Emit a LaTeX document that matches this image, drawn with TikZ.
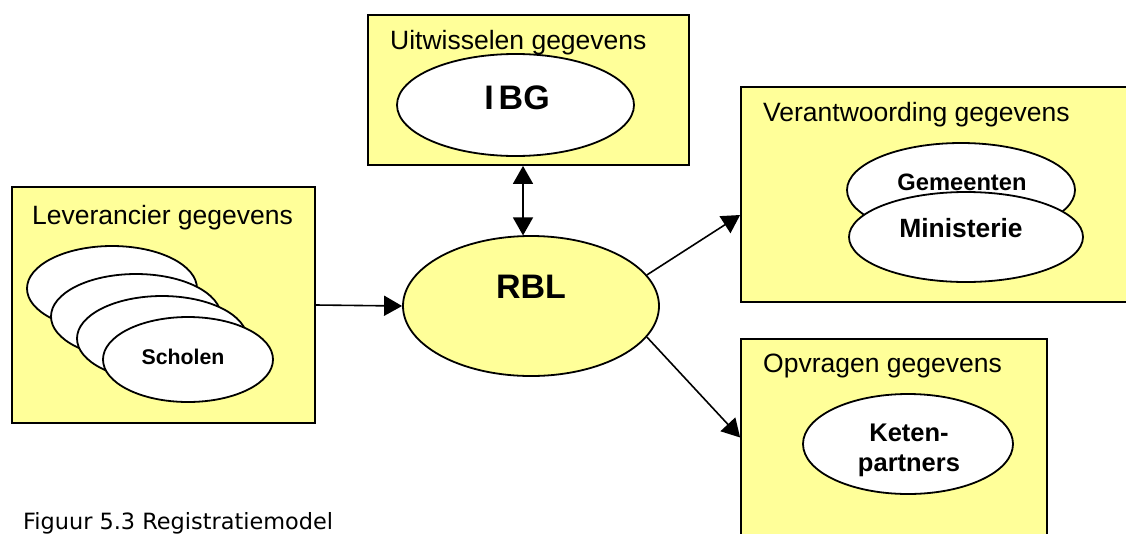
\documentclass[tikz,border=0pt]{standalone}
\usepackage{fontspec}
\setmainfont{Liberation Sans}
\newfontfamily\capfont{DejaVu Sans}
\usetikzlibrary{shapes.geometric,arrows.meta}
\definecolor{boxyellow}{RGB}{255,255,153}
\tikzset{
  groupbox/.style={draw=black,line width=1.8pt,fill=boxyellow},
  oval/.style={ellipse,draw=black,line width=1.8pt,fill=white,inner sep=0pt},
  boxtitle/.style={anchor=west,inner sep=0pt,font=\fontsize{26.5}{31}\selectfont},
  bigbold/.style={inner sep=0pt,font=\fontsize{34}{40}\selectfont\bfseries},
  conn/.style={line width=1.6pt,-{Triangle[length=18pt,width=20pt]}},
  conn2/.style={line width=1.6pt,{Triangle[length=18pt,width=20pt]}-{Triangle[length=18pt,width=20pt]}}
}
\begin{document}
\begin{tikzpicture}[x=1pt,y=-1pt]
\useasboundingbox (0,0) rectangle (1126,533);
% boxes
\node[groupbox,minimum width=303pt,minimum height=236pt,inner sep=0pt] (levbox) at (163.5,305) {};
\node[groupbox,minimum width=321pt,minimum height=150pt,inner sep=0pt] (ibgbox) at (528.5,90) {};
\node[groupbox,minimum width=390pt,minimum height=215pt,inner sep=0pt] (verbox) at (936,194.5) {};
\node[groupbox,minimum width=306pt,minimum height=210pt,inner sep=0pt] (opvbox) at (894,444) {};
% titles
\node[boxtitle] (levtitle) at (32,218) {Leverancier gegevens};
\node[boxtitle] (ibgtitle) at (390,42.5) {Uitwisselen gegevens};
\node[boxtitle] (vertitle) at (763,115) {Verantwoording gegevens};
\node[boxtitle] (opvtitle) at (763,366) {Opvragen gegevens};
% IBG
\node[oval,minimum width=237pt,minimum height=102pt] (ibg) at (515.5,105) {};
\node[bigbold] (ibgtext) at (517,98) {I\kern5pt BG};
% RBL
\node[oval,fill=boxyellow,minimum width=256pt,minimum height=140pt] (rbl) at (531,306) {};
\node[bigbold] (rbltext) at (531,287) {RBL};
% Scholen stack
\node[oval,minimum width=170pt,minimum height=85pt] (s1) at (112,288.5) {};
\node[oval,minimum width=170pt,minimum height=85pt] (s2) at (136,316.5) {};
\node[oval,minimum width=170pt,minimum height=85pt] (s3) at (162,338.5) {};
\node[oval,minimum width=170pt,minimum height=85pt] (s4) at (188,359.5) {};
\node[inner sep=0pt,font=\fontsize{21.3}{25}\selectfont\bfseries] (s4text) at (183,357) {Scholen};
% Gemeenten / Ministerie
\node[oval,minimum width=228pt,minimum height=94pt] (gem) at (961,190) {};
\node[inner sep=0pt,font=\fontsize{23.7}{28}\selectfont\bfseries] (gemtext) at (962,182) {Gemeenten};
\node[oval,minimum width=234pt,minimum height=90pt] (min) at (966,237) {};
\node[inner sep=0pt,font=\fontsize{26.4}{31}\selectfont\bfseries] (mintext) at (961,228) {Ministerie};
% Ketenpartners
\node[oval,minimum width=210pt,minimum height=100pt] (ket) at (908,444) {};
\node[inner sep=0pt,align=center,font=\fontsize{25.5}{30}\selectfont\bfseries] (kettext) at (909,450) {Keten-\\partners};
% caption
\node[anchor=base west,inner sep=0pt,font=\capfont\fontsize{22.4}{26}\selectfont] (caption) at (23,529) {Figuur 5.3 Registratiemodel};
% connectors
\draw[conn] (levbox.east) -- (rbl.west);
\draw[conn2] ([xshift=-5.5pt]ibgbox.south) -- ([xshift=-8pt,yshift=-0.3pt]rbl.north);
\draw[conn] (rbl.15) -- ([yshift=-20.5pt]verbox.west);
\draw[conn] (rbl.-15) -- ([yshift=6.5pt]opvbox.west);
\end{tikzpicture}
\end{document}
